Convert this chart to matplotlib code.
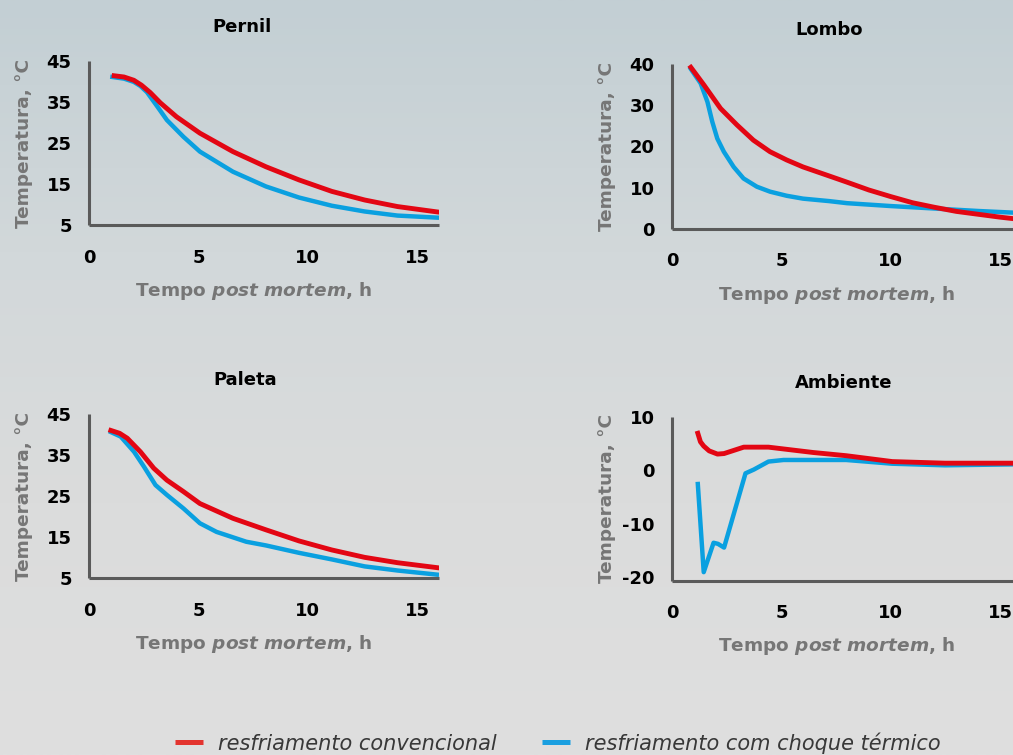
import numpy as np
import matplotlib
matplotlib.use("Agg")
from matplotlib import pyplot as plt
from matplotlib.lines import Line2D
from matplotlib.colors import LinearSegmentedColormap

plt.rcParams['font.family'] = ['DejaVu Sans']
plt.rcParams['axes.unicode_minus'] = False

RED = '#e30613'
BLUE = '#0aa0e0'
SPINE = '#5a5a5a'
LABEL_GRAY = '#767676'

# ---- cooling curves (time post mortem in h, temperature in C) ----
pernil_t_conv = [1.15, 1.6, 2.05, 2.4, 2.8, 3.26, 4.0, 5.07, 6.58, 8.09, 9.6, 11.1, 12.6, 14.1, 15.9]
pernil_conv = [41.4, 41.1, 40.3, 39.1, 37.3, 34.8, 31.4, 27.4, 22.9, 19.2, 16.0, 13.2, 11.1, 9.5, 8.2]
pernil_t_choque = [1.07, 1.6, 2.05, 2.35, 2.65, 3.11, 3.56, 4.32, 5.07, 6.58, 8.09, 9.6, 11.1, 12.6, 14.1, 15.9]
pernil_choque = [41.1, 40.7, 39.9, 38.9, 37.4, 34.0, 30.6, 26.5, 22.9, 18.0, 14.4, 11.7, 9.7, 8.3, 7.3, 6.8]

lombo_t_conv = [0.86, 1.46, 2.22, 2.97, 3.72, 4.48, 5.24, 5.99, 7.19, 8, 9, 10, 11, 12, 13, 14, 15, 16]
lombo_conv = [39.2, 34.9, 29.2, 25.2, 21.5, 18.7, 16.7, 15.0, 12.8, 11.3, 9.4, 7.8, 6.3, 5.2, 4.2, 3.5, 2.8, 2.2]
lombo_t_choque = [0.86, 1.31, 1.62, 1.84, 2.07, 2.37, 2.82, 3.27, 3.88, 4.48, 5.24, 5.99, 7.19, 8, 10, 12, 14, 16]
lombo_choque = [38.8, 35.3, 30.8, 26.0, 21.9, 18.7, 15.0, 12.2, 10.2, 9.0, 8.0, 7.3, 6.7, 6.2, 5.5, 4.9, 4.3, 3.8]

paleta_t_conv = [1.0, 1.4, 1.75, 2.35, 2.96, 3.56, 4.32, 5.07, 6.58, 8.09, 9.6, 11.1, 12.6, 14.1, 15.9]
paleta_conv = [41.0, 40.3, 39.1, 35.8, 31.8, 28.9, 26.1, 23.2, 19.6, 16.8, 14.1, 11.9, 10.1, 8.8, 7.6]
paleta_t_choque = [1.0, 1.45, 2.06, 2.51, 3.04, 3.56, 4.32, 5.07, 5.83, 7.19, 8.09, 9.6, 11.1, 12.6, 14.1, 15.9]
paleta_choque = [40.6, 39.5, 35.8, 32.2, 27.7, 25.3, 22.0, 18.4, 16.3, 13.9, 13.0, 11.2, 9.6, 7.9, 6.9, 5.9]

ambiente_t_conv = [1.18, 1.3, 1.45, 1.7, 2.08, 2.38, 2.83, 3.28, 4.41, 6.45, 7.96, 10.07, 12.48, 16]
ambiente_conv = [6.9, 5.3, 4.5, 3.6, 3.0, 3.1, 3.7, 4.3, 4.3, 3.3, 2.7, 1.6, 1.3, 1.3]
ambiente_t_choque = [1.18, 1.45, 1.9, 2.1, 2.38, 3.36, 3.74, 4.41, 5.1, 7.96, 10.07, 12.48, 16]
ambiente_choque = [-2.6, -19.1, -13.6, -13.8, -14.5, -0.6, 0.1, 1.6, 1.9, 1.9, 1.2, 0.9, 1.1]

x_ticks = [0, 5, 10, 15]
legend_labels = ['resfriamento convencional', 'resfriamento com choque térmico']

W, H = 1013, 755
fig = plt.figure(figsize=(W / 100, H / 100), dpi=100)

# soft background: blue-grey at the top fading to light grey
bg = fig.add_axes([0, 0, 1, 1], zorder=-10)
cmap_bg = LinearSegmentedColormap.from_list('bg', ['#c3cfd4', '#d2d8da', '#dbdcdc', '#dfdfdf'])
grad = np.linspace(0, 1, 256).reshape(-1, 1)
bg.imshow(grad, aspect='auto', cmap=cmap_bg, extent=[0, 1, 0, 1], origin='upper')
bg.axis('off')


def px_axes(left, top, bottom, width=350):
    return fig.add_axes([left / W, 1 - bottom / H, width / W, (bottom - top) / H])


def style(ax, title, yticks, ylim, title_x, xlabel_x):
    ax.set_facecolor('none')
    ax.set_xlim(0, 16)
    ax.set_ylim(*ylim)
    ax.set_xticks(x_ticks)
    ax.set_yticks(yticks)
    for side in ('top', 'right'):
        ax.spines[side].set_visible(False)
    for side in ('left', 'bottom'):
        ax.spines[side].set_color(SPINE)
        ax.spines[side].set_linewidth(2.2)
        ax.spines[side].set_capstyle('butt')
    ax.tick_params(axis='both', length=0, labelsize=13, colors='black')
    ax.tick_params(axis='y', pad=12.5)
    ax.tick_params(axis='x', pad=17)
    for lab in ax.get_xticklabels() + ax.get_yticklabels():
        lab.set_fontweight('bold')
    ax.set_ylabel('Temperatura, °C', color=LABEL_GRAY, fontsize=13.3, fontweight='bold')
    ax.yaxis.set_label_coords(-0.16, 0.5)
    ax.text(title_x, 1.205, title, transform=ax.transAxes, ha='center', va='center',
            fontsize=13, fontweight='bold', color='black')
    ax.text(xlabel_x, -0.4, r'Tempo $\mathbfit{post\ mortem}$, h', transform=ax.transAxes,
            ha='center', va='center', fontsize=13.3, fontweight='bold', color=LABEL_GRAY)


plt.rcParams['mathtext.fontset'] = 'custom'
plt.rcParams['mathtext.bfit'] = 'DejaVu Sans:bold:italic'

LW_RED, LW_BLUE = 3.5, 3.2

ax1 = px_axes(89, 61, 225)
ax1.plot(pernil_t_choque, pernil_choque, color=BLUE, lw=LW_BLUE)
ax1.plot(pernil_t_conv, pernil_conv, color=RED, lw=LW_RED)
style(ax1, 'Pernil', [5, 15, 25, 35, 45], (5, 45), 0.438, 0.47)

ax2 = px_axes(672, 64, 228.7)
ax2.plot(lombo_t_choque, lombo_choque, color=BLUE, lw=LW_BLUE)
ax2.plot(lombo_t_conv, lombo_conv, color=RED, lw=LW_RED)
style(ax2, 'Lombo', [0, 10, 20, 30, 40], (0, 40), 0.45, 0.47)

ax3 = px_axes(89, 414, 578.3)
ax3.plot(paleta_t_choque, paleta_choque, color=BLUE, lw=LW_BLUE)
ax3.plot(paleta_t_conv, paleta_conv, color=RED, lw=LW_RED)
style(ax3, 'Paleta', [5, 15, 25, 35, 45], (5, 45), 0.447, 0.47)

ax4 = px_axes(672, 416.7, 580.7)
ax4.plot(ambiente_t_choque, ambiente_choque, color=BLUE, lw=LW_BLUE)
ax4.plot(ambiente_t_conv, ambiente_conv, color=RED, lw=LW_RED)
style(ax4, 'Ambiente', [-20, -10, 0, 10], (-20.7, 9.7), 0.49, 0.47)

handles = [Line2D([], [], color='#e3342f', lw=3.6, solid_capstyle='butt'),
           Line2D([], [], color='#1a9fe0', lw=3.6, solid_capstyle='butt')]
fig.legend(handles, legend_labels,
           loc='center', bbox_to_anchor=(557.5 / W, 1 - 743 / H), ncol=2, frameon=False,
           handlelength=1.35, handletextpad=0.72, columnspacing=2.16,
           prop={'style': 'italic', 'size': 15},
           labelcolor='#383838')

fig.savefig('out.png', dpi=100)
